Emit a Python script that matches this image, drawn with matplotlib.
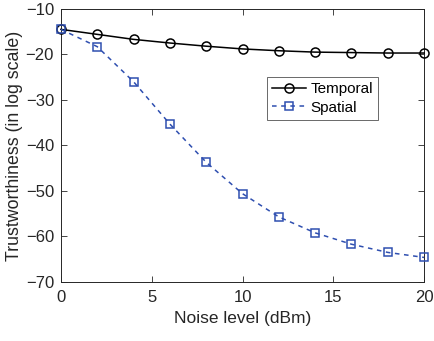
import matplotlib
matplotlib.use('Agg')
import matplotlib.pyplot as plt

plt.rcParams['font.family'] = ['Liberation Sans', 'DejaVu Sans']

noise = [0, 2, 4, 6, 8, 10, 12, 14, 16, 18, 20]
temporal = [-14.5, -15.6, -16.7, -17.5, -18.2, -18.8, -19.2, -19.5, -19.6, -19.7, -19.7]
spatial = [-14.5, -18.3, -26.0, -35.3, -43.7, -50.6, -55.7, -59.2, -61.7, -63.5, -64.6]

fig = plt.figure(figsize=(4.35, 3.41), dpi=100)
ax = fig.add_axes([0.140, 0.173, 0.835, 0.801])

ax.plot(noise, temporal, '-o', color='black', lw=1.1, ms=6.5, mfc='none', mew=1.1,
        label='Temporal', clip_on=False, zorder=3)
ax.plot(noise, spatial, '--s', color='#2f4fb0', lw=1.1, ms=5.8, mfc='none', mew=1.1,
        label='Spatial', dashes=(3, 3), clip_on=False, zorder=3)

ax.set_xlim(0, 20)
ax.set_ylim(-70, -10)
ax.set_xticks([0, 5, 10, 15, 20])
ax.set_yticks(range(-70, -9, 10))
ax.tick_params(direction='in', top=True, right=True, labelsize=12,
               colors='#262626', length=4, width=0.6)
ax.tick_params(axis='x', pad=6)
ax.tick_params(axis='y', pad=5)
for s in ax.spines.values():
    s.set_color('#262626')
    s.set_linewidth(0.7)

ax.set_xlabel('Noise level (dBm)', fontsize=12.5, color='#262626', labelpad=4)
ax.set_ylabel('Trustworthiness (in log scale)', fontsize=12.8, color='#262626', labelpad=2)

leg = ax.legend(loc='upper left', bbox_to_anchor=(0.567, 0.751), fontsize=11,
                frameon=True, fancybox=False, edgecolor='#262626', handlelength=2.2,
                borderpad=0.35, labelspacing=0.3, handletextpad=0.3, borderaxespad=0)
leg.get_frame().set_linewidth(0.6)

fig.savefig('out.png', dpi=100)
